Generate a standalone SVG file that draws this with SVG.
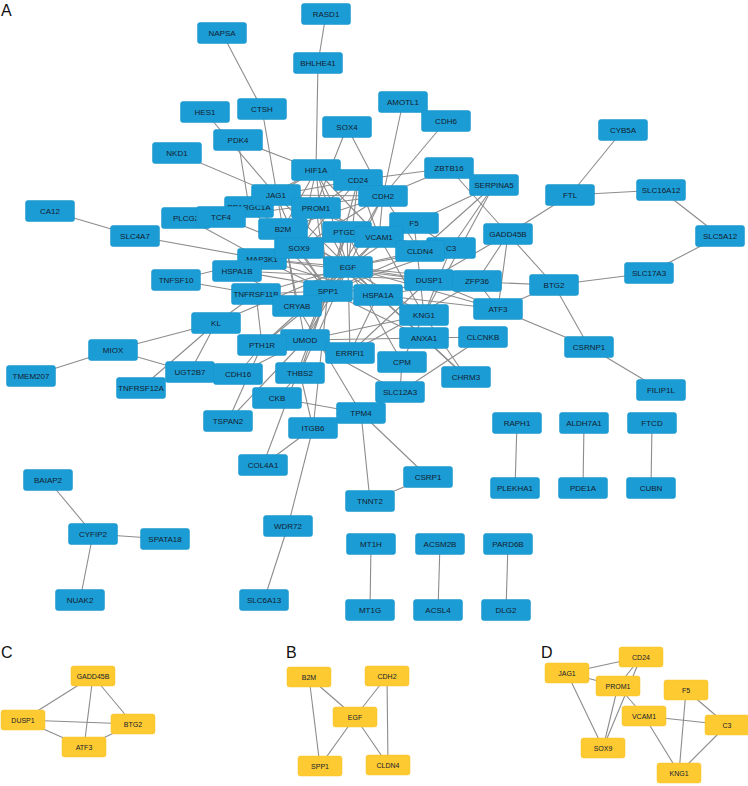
<svg xmlns="http://www.w3.org/2000/svg" width="748" height="786" viewBox="0 0 748 786">
<style>
.bg{fill:#ffffff}
.e line{stroke:#8c8c8c;stroke-width:1.1}
.n rect{fill:#1b9cd4;stroke:#1593ca;stroke-width:0.5}
.y rect{fill:#fdca31;stroke:#f7c12a;stroke-width:0.5}
.n text,.y text{font-family:"Liberation Sans",Arial,sans-serif;fill:#13202f;text-anchor:middle;dominant-baseline:central}
.n text{font-size:8px}
.y text{font-size:7px}
.lab{font-family:"Liberation Sans",Arial,sans-serif;font-size:16px;fill:#111}
</style>
<rect class="bg" x="0" y="0" width="748" height="786"/>
<text class="lab" x="1" y="16">A</text>
<text class="lab" x="1" y="658">C</text>
<text class="lab" x="286" y="658">B</text>
<text class="lab" x="541" y="658">D</text>

<g id="edges" class="e">
<line x1="326" y1="14" x2="318" y2="63"/>
<line x1="318" y1="63" x2="316" y2="170"/>
<line x1="222" y1="33" x2="262" y2="109"/>
<line x1="262" y1="109" x2="283" y2="229"/>
<line x1="205" y1="112" x2="276" y2="195"/>
<line x1="238" y1="140" x2="316" y2="170"/>
<line x1="238" y1="140" x2="249" y2="207"/>
<line x1="177" y1="153" x2="276" y2="195"/>
<line x1="347" y1="127" x2="383" y2="196"/>
<line x1="347" y1="127" x2="299" y2="248"/>
<line x1="403" y1="102" x2="383" y2="196"/>
<line x1="446" y1="121" x2="383" y2="196"/>
<line x1="449" y1="168" x2="358" y2="180"/>
<line x1="449" y1="168" x2="383" y2="196"/>
<line x1="449" y1="168" x2="508" y2="234"/>
<line x1="623" y1="130" x2="570" y2="195"/>
<line x1="570" y1="195" x2="661" y2="190"/>
<line x1="661" y1="190" x2="720" y2="236"/>
<line x1="720" y1="236" x2="649" y2="273"/>
<line x1="649" y1="273" x2="554" y2="285"/>
<line x1="570" y1="195" x2="508" y2="234"/>
<line x1="508" y1="234" x2="554" y2="285"/>
<line x1="508" y1="234" x2="498" y2="309"/>
<line x1="508" y1="234" x2="429" y2="280"/>
<line x1="508" y1="234" x2="477" y2="281"/>
<line x1="554" y1="285" x2="498" y2="309"/>
<line x1="554" y1="285" x2="429" y2="280"/>
<line x1="554" y1="285" x2="589" y2="347"/>
<line x1="498" y1="309" x2="589" y2="347"/>
<line x1="589" y1="347" x2="661" y2="390"/>
<line x1="498" y1="309" x2="429" y2="280"/>
<line x1="498" y1="309" x2="477" y2="281"/>
<line x1="429" y1="280" x2="477" y2="281"/>
<line x1="50" y1="211" x2="135" y2="236"/>
<line x1="135" y1="236" x2="262" y2="259"/>
<line x1="186" y1="218" x2="262" y2="259"/>
<line x1="221" y1="217" x2="299" y2="248"/>
<line x1="221" y1="217" x2="383" y2="196"/>
<line x1="176" y1="280" x2="256" y2="294"/>
<line x1="176" y1="280" x2="262" y2="259"/>
<line x1="216" y1="323" x2="113" y2="350"/>
<line x1="216" y1="323" x2="190" y2="372"/>
<line x1="216" y1="323" x2="141" y2="388"/>
<line x1="216" y1="323" x2="256" y2="294"/>
<line x1="216" y1="323" x2="348" y2="267"/>
<line x1="113" y1="350" x2="31" y2="376"/>
<line x1="113" y1="350" x2="190" y2="372"/>
<line x1="190" y1="372" x2="238" y2="374"/>
<line x1="238" y1="374" x2="305" y2="340"/>
<line x1="238" y1="374" x2="262" y2="345"/>
<line x1="228" y1="421" x2="262" y2="345"/>
<line x1="228" y1="421" x2="305" y2="340"/>
<line x1="277" y1="398" x2="361" y2="413"/>
<line x1="277" y1="398" x2="300" y2="373"/>
<line x1="263" y1="465" x2="328" y2="291"/>
<line x1="263" y1="465" x2="313" y2="428"/>
<line x1="313" y1="428" x2="288" y2="526"/>
<line x1="288" y1="526" x2="264" y2="600"/>
<line x1="313" y1="428" x2="300" y2="373"/>
<line x1="313" y1="428" x2="328" y2="291"/>
<line x1="361" y1="413" x2="370" y2="501"/>
<line x1="361" y1="413" x2="428" y2="477"/>
<line x1="361" y1="413" x2="400" y2="392"/>
<line x1="361" y1="413" x2="297" y2="306"/>
<line x1="428" y1="477" x2="370" y2="501"/>
<line x1="400" y1="392" x2="402" y2="362"/>
<line x1="400" y1="392" x2="305" y2="340"/>
<line x1="400" y1="392" x2="483" y2="337"/>
<line x1="48" y1="480" x2="93" y2="534"/>
<line x1="93" y1="534" x2="165" y2="539"/>
<line x1="93" y1="534" x2="80" y2="600"/>
<line x1="517" y1="423" x2="515" y2="488"/>
<line x1="584" y1="423" x2="583" y2="488"/>
<line x1="652" y1="423" x2="651" y2="488"/>
<line x1="371" y1="544" x2="370" y2="610"/>
<line x1="440" y1="544" x2="438" y2="610"/>
<line x1="508" y1="544" x2="506" y2="610"/>
<line x1="316" y1="170" x2="348" y2="267"/>
<line x1="316" y1="170" x2="328" y2="291"/>
<line x1="316" y1="170" x2="379" y2="237"/>
<line x1="316" y1="170" x2="299" y2="248"/>
<line x1="316" y1="170" x2="358" y2="180"/>
<line x1="316" y1="170" x2="276" y2="195"/>
<line x1="316" y1="170" x2="249" y2="207"/>
<line x1="316" y1="170" x2="378" y2="295"/>
<line x1="316" y1="170" x2="383" y2="196"/>
<line x1="316" y1="170" x2="283" y2="229"/>
<line x1="358" y1="180" x2="316" y2="208"/>
<line x1="358" y1="180" x2="299" y2="248"/>
<line x1="358" y1="180" x2="276" y2="195"/>
<line x1="358" y1="180" x2="348" y2="267"/>
<line x1="358" y1="180" x2="328" y2="291"/>
<line x1="358" y1="180" x2="379" y2="237"/>
<line x1="276" y1="195" x2="316" y2="208"/>
<line x1="276" y1="195" x2="299" y2="248"/>
<line x1="276" y1="195" x2="348" y2="267"/>
<line x1="276" y1="195" x2="383" y2="196"/>
<line x1="276" y1="195" x2="379" y2="237"/>
<line x1="249" y1="207" x2="328" y2="291"/>
<line x1="249" y1="207" x2="348" y2="267"/>
<line x1="316" y1="208" x2="299" y2="248"/>
<line x1="316" y1="208" x2="379" y2="237"/>
<line x1="316" y1="208" x2="348" y2="267"/>
<line x1="316" y1="208" x2="328" y2="291"/>
<line x1="383" y1="196" x2="348" y2="267"/>
<line x1="383" y1="196" x2="420" y2="251"/>
<line x1="383" y1="196" x2="328" y2="291"/>
<line x1="383" y1="196" x2="299" y2="248"/>
<line x1="383" y1="196" x2="379" y2="237"/>
<line x1="383" y1="196" x2="283" y2="229"/>
<line x1="283" y1="229" x2="348" y2="267"/>
<line x1="283" y1="229" x2="328" y2="291"/>
<line x1="283" y1="229" x2="305" y2="340"/>
<line x1="283" y1="229" x2="297" y2="306"/>
<line x1="283" y1="229" x2="378" y2="295"/>
<line x1="347" y1="232" x2="305" y2="340"/>
<line x1="347" y1="232" x2="348" y2="267"/>
<line x1="347" y1="232" x2="328" y2="291"/>
<line x1="347" y1="232" x2="420" y2="251"/>
<line x1="379" y1="237" x2="451" y2="248"/>
<line x1="379" y1="237" x2="424" y2="315"/>
<line x1="379" y1="237" x2="348" y2="267"/>
<line x1="379" y1="237" x2="328" y2="291"/>
<line x1="414" y1="223" x2="451" y2="248"/>
<line x1="414" y1="223" x2="424" y2="315"/>
<line x1="414" y1="223" x2="494" y2="185"/>
<line x1="414" y1="223" x2="348" y2="267"/>
<line x1="451" y1="248" x2="424" y2="315"/>
<line x1="451" y1="248" x2="494" y2="185"/>
<line x1="451" y1="248" x2="328" y2="291"/>
<line x1="451" y1="248" x2="348" y2="267"/>
<line x1="424" y1="315" x2="494" y2="185"/>
<line x1="424" y1="315" x2="348" y2="267"/>
<line x1="424" y1="315" x2="305" y2="340"/>
<line x1="424" y1="315" x2="402" y2="362"/>
<line x1="420" y1="251" x2="348" y2="267"/>
<line x1="420" y1="251" x2="328" y2="291"/>
<line x1="420" y1="251" x2="494" y2="185"/>
<line x1="299" y1="248" x2="348" y2="267"/>
<line x1="299" y1="248" x2="328" y2="291"/>
<line x1="262" y1="259" x2="348" y2="267"/>
<line x1="262" y1="259" x2="378" y2="295"/>
<line x1="262" y1="259" x2="237" y2="271"/>
<line x1="262" y1="259" x2="429" y2="280"/>
<line x1="262" y1="259" x2="328" y2="291"/>
<line x1="237" y1="271" x2="378" y2="295"/>
<line x1="237" y1="271" x2="297" y2="306"/>
<line x1="237" y1="271" x2="429" y2="280"/>
<line x1="348" y1="267" x2="328" y2="291"/>
<line x1="348" y1="267" x2="429" y2="280"/>
<line x1="348" y1="267" x2="350" y2="353"/>
<line x1="348" y1="267" x2="477" y2="281"/>
<line x1="348" y1="267" x2="498" y2="309"/>
<line x1="348" y1="267" x2="424" y2="338"/>
<line x1="348" y1="267" x2="305" y2="340"/>
<line x1="348" y1="267" x2="262" y2="345"/>
<line x1="348" y1="267" x2="300" y2="373"/>
<line x1="348" y1="267" x2="256" y2="294"/>
<line x1="348" y1="267" x2="466" y2="377"/>
<line x1="348" y1="267" x2="402" y2="362"/>
<line x1="348" y1="267" x2="378" y2="295"/>
<line x1="348" y1="267" x2="297" y2="306"/>
<line x1="256" y1="294" x2="328" y2="291"/>
<line x1="256" y1="294" x2="262" y2="345"/>
<line x1="328" y1="291" x2="305" y2="340"/>
<line x1="328" y1="291" x2="297" y2="306"/>
<line x1="328" y1="291" x2="300" y2="373"/>
<line x1="328" y1="291" x2="262" y2="345"/>
<line x1="378" y1="295" x2="297" y2="306"/>
<line x1="378" y1="295" x2="429" y2="280"/>
<line x1="378" y1="295" x2="498" y2="309"/>
<line x1="378" y1="295" x2="477" y2="281"/>
<line x1="378" y1="295" x2="350" y2="353"/>
<line x1="429" y1="280" x2="350" y2="353"/>
<line x1="477" y1="281" x2="350" y2="353"/>
<line x1="305" y1="340" x2="262" y2="345"/>
<line x1="305" y1="340" x2="483" y2="337"/>
<line x1="424" y1="338" x2="466" y2="377"/>
<line x1="424" y1="338" x2="328" y2="291"/>
<line x1="466" y1="377" x2="424" y2="315"/>
<line x1="93" y1="676" x2="23" y2="720"/>
<line x1="93" y1="676" x2="84" y2="747"/>
<line x1="93" y1="676" x2="133" y2="724"/>
<line x1="23" y1="720" x2="133" y2="724"/>
<line x1="23" y1="720" x2="84" y2="747"/>
<line x1="84" y1="747" x2="133" y2="724"/>
<line x1="309" y1="677" x2="355" y2="717"/>
<line x1="309" y1="677" x2="320" y2="766"/>
<line x1="387" y1="676" x2="355" y2="717"/>
<line x1="355" y1="717" x2="320" y2="766"/>
<line x1="355" y1="717" x2="388" y2="765"/>
<line x1="387" y1="676" x2="388" y2="765"/>
<line x1="567" y1="673" x2="641" y2="657"/>
<line x1="567" y1="673" x2="618" y2="686"/>
<line x1="567" y1="673" x2="603" y2="748"/>
<line x1="641" y1="657" x2="618" y2="686"/>
<line x1="641" y1="657" x2="603" y2="748"/>
<line x1="618" y1="686" x2="603" y2="748"/>
<line x1="618" y1="686" x2="644" y2="716"/>
<line x1="644" y1="716" x2="727" y2="725"/>
<line x1="644" y1="716" x2="679" y2="773"/>
<line x1="686" y1="690" x2="727" y2="725"/>
<line x1="686" y1="690" x2="679" y2="773"/>
<line x1="727" y1="725" x2="679" y2="773"/>
</g>

<g id="nodes">
<g id="RASD1" class="n"><rect x="301.5" y="3.5" width="49" height="21" rx="2.5"/><text x="326" y="14">RASD1</text></g>
<g id="BHLHE41" class="n"><rect x="293.5" y="52.5" width="49" height="21" rx="2.5"/><text x="318" y="63">BHLHE41</text></g>
<g id="NAPSA" class="n"><rect x="197.5" y="22.5" width="49" height="21" rx="2.5"/><text x="222" y="33">NAPSA</text></g>
<g id="HES1" class="n"><rect x="180.5" y="101.5" width="49" height="21" rx="2.5"/><text x="205" y="112">HES1</text></g>
<g id="CTSH" class="n"><rect x="237.5" y="98.5" width="49" height="21" rx="2.5"/><text x="262" y="109">CTSH</text></g>
<g id="PDK4" class="n"><rect x="213.5" y="129.5" width="49" height="21" rx="2.5"/><text x="238" y="140">PDK4</text></g>
<g id="NKD1" class="n"><rect x="152.5" y="142.5" width="49" height="21" rx="2.5"/><text x="177" y="153">NKD1</text></g>
<g id="AMOTL1" class="n"><rect x="378.5" y="91.5" width="49" height="21" rx="2.5"/><text x="403" y="102">AMOTL1</text></g>
<g id="CDH6" class="n"><rect x="421.5" y="110.5" width="49" height="21" rx="2.5"/><text x="446" y="121">CDH6</text></g>
<g id="SOX4" class="n"><rect x="322.5" y="116.5" width="49" height="21" rx="2.5"/><text x="347" y="127">SOX4</text></g>
<g id="ZBTB16" class="n"><rect x="424.5" y="157.5" width="49" height="21" rx="2.5"/><text x="449" y="168">ZBTB16</text></g>
<g id="SERPINA5" class="n"><rect x="469.5" y="174.5" width="49" height="21" rx="2.5"/><text x="494" y="185">SERPINA5</text></g>
<g id="CYB5A" class="n"><rect x="598.5" y="119.5" width="49" height="21" rx="2.5"/><text x="623" y="130">CYB5A</text></g>
<g id="FTL" class="n"><rect x="545.5" y="184.5" width="49" height="21" rx="2.5"/><text x="570" y="195">FTL</text></g>
<g id="SLC16A12" class="n"><rect x="636.5" y="179.5" width="49" height="21" rx="2.5"/><text x="661" y="190">SLC16A12</text></g>
<g id="SLC5A12" class="n"><rect x="695.5" y="225.5" width="49" height="21" rx="2.5"/><text x="720" y="236">SLC5A12</text></g>
<g id="SLC17A3" class="n"><rect x="624.5" y="262.5" width="49" height="21" rx="2.5"/><text x="649" y="273">SLC17A3</text></g>
<g id="GADD45B" class="n"><rect x="483.5" y="223.5" width="49" height="21" rx="2.5"/><text x="508" y="234">GADD45B</text></g>
<g id="BTG2" class="n"><rect x="529.5" y="274.5" width="49" height="21" rx="2.5"/><text x="554" y="285">BTG2</text></g>
<g id="CA12" class="n"><rect x="25.5" y="200.5" width="49" height="21" rx="2.5"/><text x="50" y="211">CA12</text></g>
<g id="SLC4A7" class="n"><rect x="110.5" y="225.5" width="49" height="21" rx="2.5"/><text x="135" y="236">SLC4A7</text></g>
<g id="PLCG2" class="n"><rect x="161.5" y="207.5" width="49" height="21" rx="2.5"/><text x="186" y="218">PLCG2</text></g>
<g id="PPARGC1A" class="n"><rect x="224.5" y="196.5" width="49" height="21" rx="2.5"/><text x="249" y="207">PPARGC1A</text></g>
<g id="TCF4" class="n"><rect x="196.5" y="206.5" width="49" height="21" rx="2.5"/><text x="221" y="217">TCF4</text></g>
<g id="HIF1A" class="n"><rect x="291.5" y="159.5" width="49" height="21" rx="2.5"/><text x="316" y="170">HIF1A</text></g>
<g id="CD24" class="n"><rect x="333.5" y="169.5" width="49" height="21" rx="2.5"/><text x="358" y="180">CD24</text></g>
<g id="JAG1" class="n"><rect x="251.5" y="184.5" width="49" height="21" rx="2.5"/><text x="276" y="195">JAG1</text></g>
<g id="CDH2" class="n"><rect x="358.5" y="185.5" width="49" height="21" rx="2.5"/><text x="383" y="196">CDH2</text></g>
<g id="PROM1" class="n"><rect x="291.5" y="197.5" width="49" height="21" rx="2.5"/><text x="316" y="208">PROM1</text></g>
<g id="B2M" class="n"><rect x="258.5" y="218.5" width="49" height="21" rx="2.5"/><text x="283" y="229">B2M</text></g>
<g id="PTGDS" class="n"><rect x="322.5" y="221.5" width="49" height="21" rx="2.5"/><text x="347" y="232">PTGDS</text></g>
<g id="F5" class="n"><rect x="389.5" y="212.5" width="49" height="21" rx="2.5"/><text x="414" y="223">F5</text></g>
<g id="VCAM1" class="n"><rect x="354.5" y="226.5" width="49" height="21" rx="2.5"/><text x="379" y="237">VCAM1</text></g>
<g id="C3" class="n"><rect x="426.5" y="237.5" width="49" height="21" rx="2.5"/><text x="451" y="248">C3</text></g>
<g id="CLDN4" class="n"><rect x="395.5" y="240.5" width="49" height="21" rx="2.5"/><text x="420" y="251">CLDN4</text></g>
<g id="MAP3K1" class="n"><rect x="237.5" y="248.5" width="49" height="21" rx="2.5"/><text x="262" y="259">MAP3K1</text></g>
<g id="SOX9" class="n"><rect x="274.5" y="237.5" width="49" height="21" rx="2.5"/><text x="299" y="248">SOX9</text></g>
<g id="HSPA1B" class="n"><rect x="212.5" y="260.5" width="49" height="21" rx="2.5"/><text x="237" y="271">HSPA1B</text></g>
<g id="TNFSF10" class="n"><rect x="151.5" y="269.5" width="49" height="21" rx="2.5"/><text x="176" y="280">TNFSF10</text></g>
<g id="EGF" class="n"><rect x="323.5" y="256.5" width="49" height="21" rx="2.5"/><text x="348" y="267">EGF</text></g>
<g id="TNFRSF11B" class="n"><rect x="231.5" y="283.5" width="49" height="21" rx="2.5"/><text x="256" y="294">TNFRSF11B</text></g>
<g id="DUSP1" class="n"><rect x="404.5" y="269.5" width="49" height="21" rx="2.5"/><text x="429" y="280">DUSP1</text></g>
<g id="ZFP36" class="n"><rect x="452.5" y="270.5" width="49" height="21" rx="2.5"/><text x="477" y="281">ZFP36</text></g>
<g id="SPP1" class="n"><rect x="303.5" y="280.5" width="49" height="21" rx="2.5"/><text x="328" y="291">SPP1</text></g>
<g id="HSPA1A" class="n"><rect x="353.5" y="284.5" width="49" height="21" rx="2.5"/><text x="378" y="295">HSPA1A</text></g>
<g id="CRYAB" class="n"><rect x="272.5" y="295.5" width="49" height="21" rx="2.5"/><text x="297" y="306">CRYAB</text></g>
<g id="KNG1" class="n"><rect x="399.5" y="304.5" width="49" height="21" rx="2.5"/><text x="424" y="315">KNG1</text></g>
<g id="ATF3" class="n"><rect x="473.5" y="298.5" width="49" height="21" rx="2.5"/><text x="498" y="309">ATF3</text></g>
<g id="KL" class="n"><rect x="191.5" y="312.5" width="49" height="21" rx="2.5"/><text x="216" y="323">KL</text></g>
<g id="MIOX" class="n"><rect x="88.5" y="339.5" width="49" height="21" rx="2.5"/><text x="113" y="350">MIOX</text></g>
<g id="UMOD" class="n"><rect x="280.5" y="329.5" width="49" height="21" rx="2.5"/><text x="305" y="340">UMOD</text></g>
<g id="PTH1R" class="n"><rect x="237.5" y="334.5" width="49" height="21" rx="2.5"/><text x="262" y="345">PTH1R</text></g>
<g id="ERRFI1" class="n"><rect x="325.5" y="342.5" width="49" height="21" rx="2.5"/><text x="350" y="353">ERRFI1</text></g>
<g id="ANXA1" class="n"><rect x="399.5" y="327.5" width="49" height="21" rx="2.5"/><text x="424" y="338">ANXA1</text></g>
<g id="CLCNKB" class="n"><rect x="458.5" y="326.5" width="49" height="21" rx="2.5"/><text x="483" y="337">CLCNKB</text></g>
<g id="CPM" class="n"><rect x="377.5" y="351.5" width="49" height="21" rx="2.5"/><text x="402" y="362">CPM</text></g>
<g id="CSRNP1" class="n"><rect x="564.5" y="336.5" width="49" height="21" rx="2.5"/><text x="589" y="347">CSRNP1</text></g>
<g id="TMEM207" class="n"><rect x="6.5" y="365.5" width="49" height="21" rx="2.5"/><text x="31" y="376">TMEM207</text></g>
<g id="UGT2B7" class="n"><rect x="165.5" y="361.5" width="49" height="21" rx="2.5"/><text x="190" y="372">UGT2B7</text></g>
<g id="CDH16" class="n"><rect x="213.5" y="363.5" width="49" height="21" rx="2.5"/><text x="238" y="374">CDH16</text></g>
<g id="THBS2" class="n"><rect x="275.5" y="362.5" width="49" height="21" rx="2.5"/><text x="300" y="373">THBS2</text></g>
<g id="CHRM3" class="n"><rect x="441.5" y="366.5" width="49" height="21" rx="2.5"/><text x="466" y="377">CHRM3</text></g>
<g id="TNFRSF12A" class="n"><rect x="116.5" y="377.5" width="49" height="21" rx="2.5"/><text x="141" y="388">TNFRSF12A</text></g>
<g id="FILIP1L" class="n"><rect x="636.5" y="379.5" width="49" height="21" rx="2.5"/><text x="661" y="390">FILIP1L</text></g>
<g id="SLC12A3" class="n"><rect x="375.5" y="381.5" width="49" height="21" rx="2.5"/><text x="400" y="392">SLC12A3</text></g>
<g id="CKB" class="n"><rect x="252.5" y="387.5" width="49" height="21" rx="2.5"/><text x="277" y="398">CKB</text></g>
<g id="TPM4" class="n"><rect x="336.5" y="402.5" width="49" height="21" rx="2.5"/><text x="361" y="413">TPM4</text></g>
<g id="TSPAN2" class="n"><rect x="203.5" y="410.5" width="49" height="21" rx="2.5"/><text x="228" y="421">TSPAN2</text></g>
<g id="ITGB6" class="n"><rect x="288.5" y="417.5" width="49" height="21" rx="2.5"/><text x="313" y="428">ITGB6</text></g>
<g id="RAPH1" class="n"><rect x="492.5" y="412.5" width="49" height="21" rx="2.5"/><text x="517" y="423">RAPH1</text></g>
<g id="ALDH7A1" class="n"><rect x="559.5" y="412.5" width="49" height="21" rx="2.5"/><text x="584" y="423">ALDH7A1</text></g>
<g id="FTCD" class="n"><rect x="627.5" y="412.5" width="49" height="21" rx="2.5"/><text x="652" y="423">FTCD</text></g>
<g id="COL4A1" class="n"><rect x="238.5" y="454.5" width="49" height="21" rx="2.5"/><text x="263" y="465">COL4A1</text></g>
<g id="CSRP1" class="n"><rect x="403.5" y="466.5" width="49" height="21" rx="2.5"/><text x="428" y="477">CSRP1</text></g>
<g id="BAIAP2" class="n"><rect x="23.5" y="469.5" width="49" height="21" rx="2.5"/><text x="48" y="480">BAIAP2</text></g>
<g id="PLEKHA1" class="n"><rect x="490.5" y="477.5" width="49" height="21" rx="2.5"/><text x="515" y="488">PLEKHA1</text></g>
<g id="PDE1A" class="n"><rect x="558.5" y="477.5" width="49" height="21" rx="2.5"/><text x="583" y="488">PDE1A</text></g>
<g id="CUBN" class="n"><rect x="626.5" y="477.5" width="49" height="21" rx="2.5"/><text x="651" y="488">CUBN</text></g>
<g id="TNNT2" class="n"><rect x="345.5" y="490.5" width="49" height="21" rx="2.5"/><text x="370" y="501">TNNT2</text></g>
<g id="WDR72" class="n"><rect x="263.5" y="515.5" width="49" height="21" rx="2.5"/><text x="288" y="526">WDR72</text></g>
<g id="CYFIP2" class="n"><rect x="68.5" y="523.5" width="49" height="21" rx="2.5"/><text x="93" y="534">CYFIP2</text></g>
<g id="SPATA18" class="n"><rect x="140.5" y="528.5" width="49" height="21" rx="2.5"/><text x="165" y="539">SPATA18</text></g>
<g id="MT1H" class="n"><rect x="346.5" y="533.5" width="49" height="21" rx="2.5"/><text x="371" y="544">MT1H</text></g>
<g id="ACSM2B" class="n"><rect x="415.5" y="533.5" width="49" height="21" rx="2.5"/><text x="440" y="544">ACSM2B</text></g>
<g id="PARD6B" class="n"><rect x="483.5" y="533.5" width="49" height="21" rx="2.5"/><text x="508" y="544">PARD6B</text></g>
<g id="NUAK2" class="n"><rect x="55.5" y="589.5" width="49" height="21" rx="2.5"/><text x="80" y="600">NUAK2</text></g>
<g id="SLC6A13" class="n"><rect x="239.5" y="589.5" width="49" height="21" rx="2.5"/><text x="264" y="600">SLC6A13</text></g>
<g id="MT1G" class="n"><rect x="345.5" y="599.5" width="49" height="21" rx="2.5"/><text x="370" y="610">MT1G</text></g>
<g id="ACSL4" class="n"><rect x="413.5" y="599.5" width="49" height="21" rx="2.5"/><text x="438" y="610">ACSL4</text></g>
<g id="DLG2" class="n"><rect x="481.5" y="599.5" width="49" height="21" rx="2.5"/><text x="506" y="610">DLG2</text></g>

<g id="C-GADD45B" class="y"><rect x="71" y="666" width="44" height="20" rx="2.5"/><text x="93" y="676">GADD45B</text></g>
<g id="C-DUSP1" class="y"><rect x="1" y="710" width="44" height="20" rx="2.5"/><text x="23" y="720">DUSP1</text></g>
<g id="C-BTG2" class="y"><rect x="111" y="714" width="44" height="20" rx="2.5"/><text x="133" y="724">BTG2</text></g>
<g id="C-ATF3" class="y"><rect x="62" y="737" width="44" height="20" rx="2.5"/><text x="84" y="747">ATF3</text></g>

<g id="B-B2M" class="y"><rect x="287" y="667" width="44" height="20" rx="2.5"/><text x="309" y="677">B2M</text></g>
<g id="B-CDH2" class="y"><rect x="365" y="666" width="44" height="20" rx="2.5"/><text x="387" y="676">CDH2</text></g>
<g id="B-EGF" class="y"><rect x="333" y="707" width="44" height="20" rx="2.5"/><text x="355" y="717">EGF</text></g>
<g id="B-SPP1" class="y"><rect x="298" y="756" width="44" height="20" rx="2.5"/><text x="320" y="766">SPP1</text></g>
<g id="B-CLDN4" class="y"><rect x="366" y="755" width="44" height="20" rx="2.5"/><text x="388" y="765">CLDN4</text></g>

<g id="D-CD24" class="y"><rect x="619" y="647" width="44" height="20" rx="2.5"/><text x="641" y="657">CD24</text></g>
<g id="D-JAG1" class="y"><rect x="545" y="663" width="44" height="20" rx="2.5"/><text x="567" y="673">JAG1</text></g>
<g id="D-PROM1" class="y"><rect x="596" y="676" width="44" height="20" rx="2.5"/><text x="618" y="686">PROM1</text></g>
<g id="D-F5" class="y"><rect x="664" y="680" width="44" height="20" rx="2.5"/><text x="686" y="690">F5</text></g>
<g id="D-VCAM1" class="y"><rect x="622" y="706" width="44" height="20" rx="2.5"/><text x="644" y="716">VCAM1</text></g>
<g id="D-C3" class="y"><rect x="705" y="715" width="44" height="20" rx="2.5"/><text x="727" y="725">C3</text></g>
<g id="D-SOX9" class="y"><rect x="581" y="738" width="44" height="20" rx="2.5"/><text x="603" y="748">SOX9</text></g>
<g id="D-KNG1" class="y"><rect x="657" y="763" width="44" height="20" rx="2.5"/><text x="679" y="773">KNG1</text></g>
</g>
</svg>
